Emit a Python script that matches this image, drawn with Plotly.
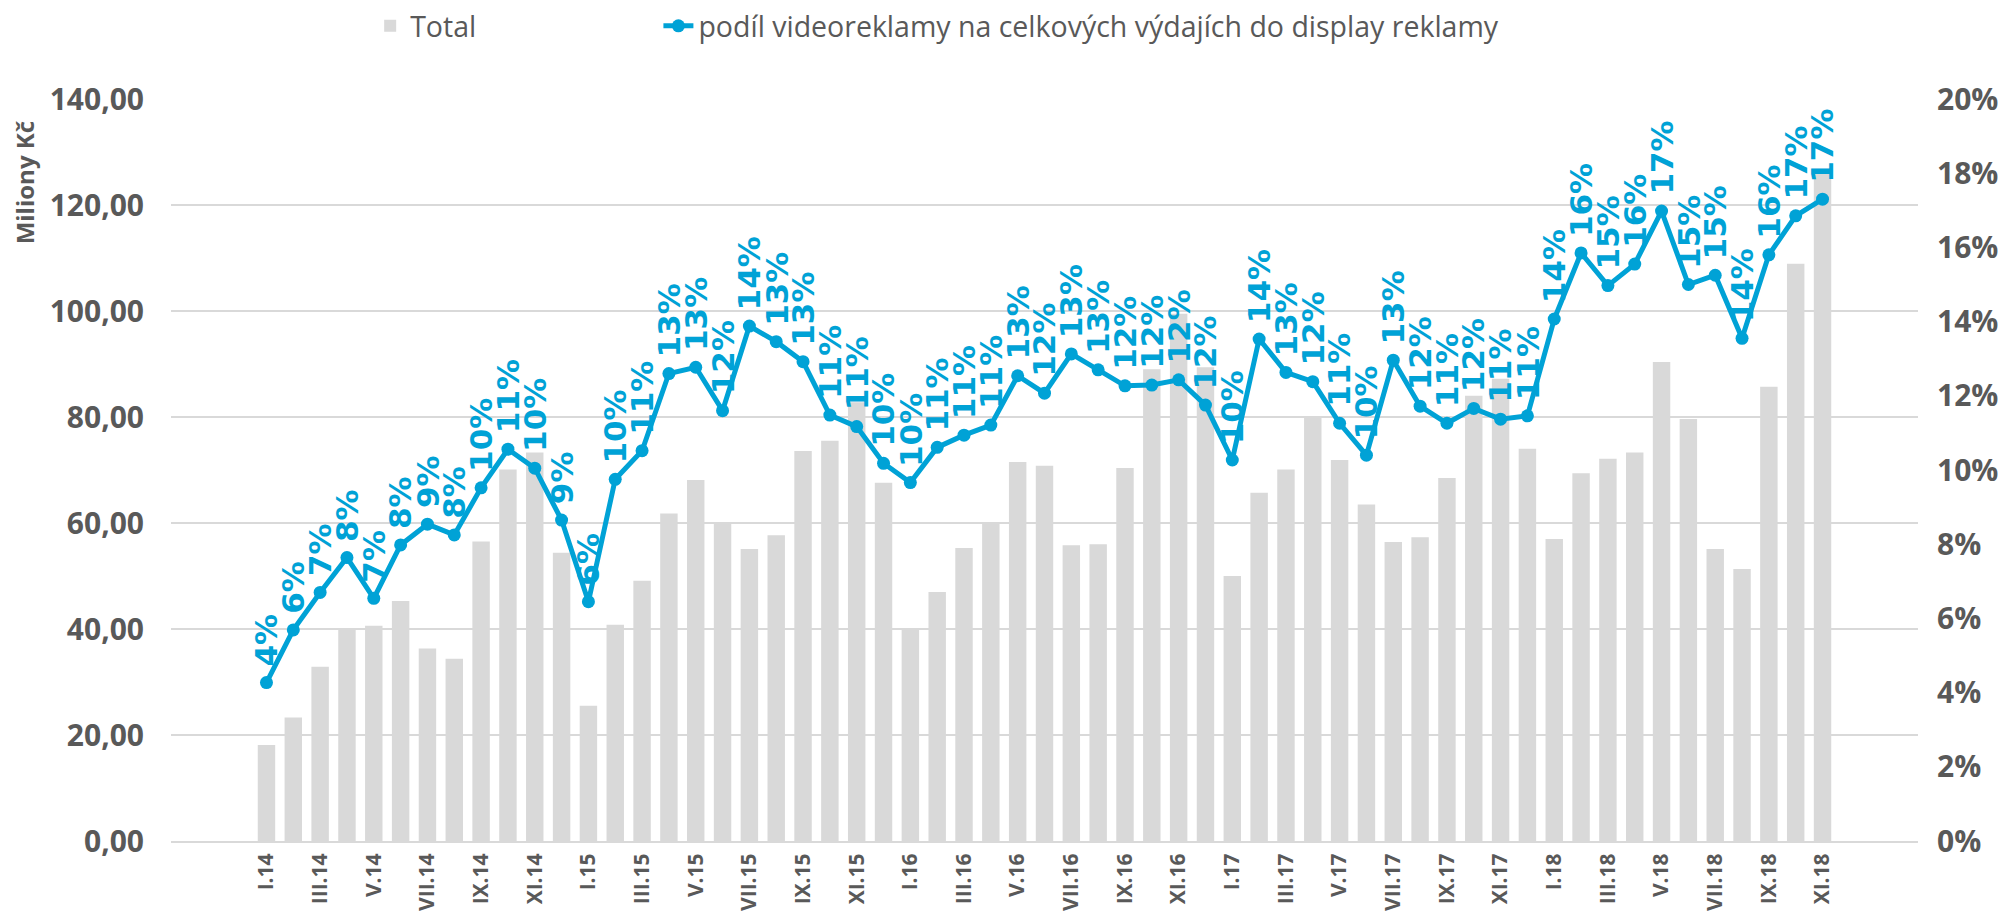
import plotly.graph_objects as go

months = ["I", "II", "III", "IV", "V", "VI", "VII", "VIII", "IX", "X", "XI", "XII"]
categories = [f"{m}.{y}" for y in ["14", "15", "16", "17", "18"] for m in months][:59]

total = [
    18.1, 23.3, 32.9, 40.1, 40.6, 45.3, 36.3, 34.4, 56.5, 70.1, 73.3, 54.4,
    25.5, 40.8, 49.1, 61.8, 68.1, 60.0, 55.1, 57.7, 73.6, 75.5, 82.8, 67.6,
    40.0, 47.0, 55.3, 60.2, 71.5, 70.8, 55.8, 56.0, 70.4, 89.0, 99.5, 89.4,
    50.0, 65.7, 70.1, 80.0, 71.9, 63.5, 56.4, 57.3, 68.5, 84.0, 87.2, 74.0,
    57.0, 69.4, 72.1, 73.3, 90.4, 79.6, 55.1, 51.3, 85.7, 108.9, 126.0,
]

share = [
    0.0427, 0.0569, 0.0670, 0.0764, 0.0654, 0.0798, 0.0854, 0.0825, 0.0952, 0.1056, 0.1005, 0.0865,
    0.0645, 0.0975, 0.1052, 0.1260, 0.1277, 0.1160, 0.1388, 0.1346, 0.1292, 0.1148, 0.1117, 0.1018,
    0.0966, 0.1061, 0.1094, 0.1121, 0.1254, 0.1207, 0.1313, 0.1270, 0.1227, 0.1229, 0.1243, 0.1175,
    0.1027, 0.1353, 0.1263, 0.1238, 0.1126, 0.1040, 0.1296, 0.1172, 0.1126, 0.1166, 0.1137, 0.1146,
    0.1407, 0.1585, 0.1497, 0.1555, 0.1698, 0.1500, 0.1525, 0.1355, 0.1580, 0.1685, 0.1730,
]

left_ticks = [0, 20, 40, 60, 80, 100, 120, 140]
left_ticktext = [f"{v},00" for v in left_ticks]
right_ticks = [i / 100 for i in range(0, 21, 2)]
right_ticktext = [f"{i}%" for i in range(0, 21, 2)]

BAR = "#D9D9D9"
LINE = "#00A2D6"
GREY = "#595959"
FONT = "Open Sans, sans-serif"
LABEL_FONT = "DejaVu Sans, Verdana, sans-serif"

fig = go.Figure()
fig.add_trace(go.Bar(
    x=categories, y=total, name="Total",
    marker=dict(color=BAR, line=dict(width=0)),
    yaxis="y", legend="legend",
))
fig.add_trace(go.Scatter(
    x=categories, y=share, name="podíl videoreklamy na celkových výdajích do display reklamy",
    mode="lines+markers",
    line=dict(color=LINE, width=5),
    marker=dict(color=LINE, size=13),
    yaxis="y2", legend="legend2",
))

annotations = []
for c, v in zip(categories, share):
    annotations.append(dict(
        x=c, y=v, xref="x", yref="y2",
        text=f"<b>{round(v * 100)}%</b>",
        textangle=-90, showarrow=False,
        xanchor="center", yanchor="bottom", yshift=14,
        font=dict(family=LABEL_FONT, size=31, color=LINE),
    ))
annotations.append(dict(
    x=-0.084, y=0.888, xref="paper", yref="paper",
    text="<b>Miliony Kč</b>", textangle=-90, showarrow=False,
    xanchor="center", yanchor="middle",
    font=dict(family=FONT, size=24, color=GREY),
))

legend_font = dict(family=FONT, size=28.5, color=GREY)
fig.update_layout(
    width=1998, height=907,
    paper_bgcolor="white", plot_bgcolor="white",
    margin=dict(l=163, r=88, t=91, b=74, autoexpand=False),
    bargap=0.35,
    showlegend=True,
    legend=dict(
        orientation="h", x=0.114, xanchor="left", y=1.098, yanchor="middle",
        font=legend_font, bgcolor="rgba(0,0,0,0)",
    ),
    legend2=dict(
        orientation="h", x=0.279, xanchor="left", y=1.098, yanchor="middle",
        font=legend_font, bgcolor="rgba(0,0,0,0)",
    ),
    annotations=annotations,
    xaxis=dict(
        type="category", automargin=False,
        tickvals=categories[::2], ticktext=categories[::2],
        tickangle=-90,
        tickfont=dict(family=FONT, size=21, color=GREY, weight="bold"),
        showgrid=False,
        showline=True, linecolor=BAR, linewidth=2,
        ticks="outside", ticklen=2, tickcolor="rgba(0,0,0,0)",
    ),
    yaxis=dict(
        range=[0, 140], tickvals=left_ticks, ticktext=left_ticktext,
        automargin=False,
        tickfont=dict(family=FONT, size=30, color=GREY, weight="bold"),
        showgrid=True, gridcolor=BAR, gridwidth=2,
        zeroline=False,
        ticks="outside", ticklen=20, tickcolor="rgba(0,0,0,0)",
    ),
    yaxis2=dict(
        range=[0, 0.2], tickvals=right_ticks, ticktext=right_ticktext,
        overlaying="y", side="right", automargin=False,
        tickfont=dict(family=FONT, size=30, color=GREY, weight="bold"),
        showgrid=False, zeroline=False,
        ticks="outside", ticklen=12, tickcolor="rgba(0,0,0,0)",
    ),
)

fig.write_html("out.html")
